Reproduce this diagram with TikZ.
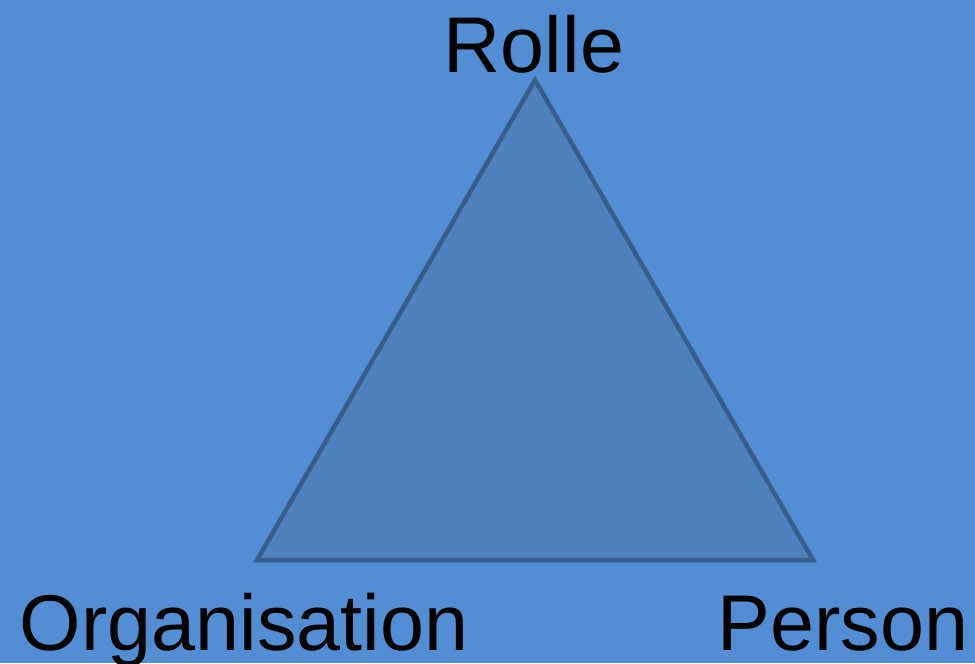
\documentclass[tikz,border=0pt]{standalone}
\usepackage{fontspec}
\setmainfont{Liberation Sans}
\usepackage{xcolor}
\usetikzlibrary{positioning,calc}
\definecolor{slidebg}{HTML}{538ED5}
\definecolor{trifill}{HTML}{4F81BD}
\definecolor{triline}{HTML}{385D8A}

\begin{document}
\begin{tikzpicture}[
    corner/.style={font=\fontsize{22.5}{27}\selectfont, text=black, inner sep=0pt, anchor=base},
    tri/.style={draw=triline, fill=trifill, line width=0.045cm, line join=miter}
]
% background, 975 x 663 px at 0.01 cm per px
\fill[slidebg] (0,0) rectangle (9.75,6.63);
\useasboundingbox (0,0) rectangle (9.75,6.63);

\coordinate (top)   at (5.35,5.83);
\coordinate (left)  at (2.57,1.03);
\coordinate (right) at (8.13,1.03);
\draw[tri] (top) -- (left) -- (right) -- cycle;

\node[corner] (rolle) at (5.34,5.91) {Rolle};
\node[corner] (org)   at (2.44,0.13) {Organisation};
\node[corner] (pers)  at (8.43,0.13) {Person};
\end{tikzpicture}
\end{document}
